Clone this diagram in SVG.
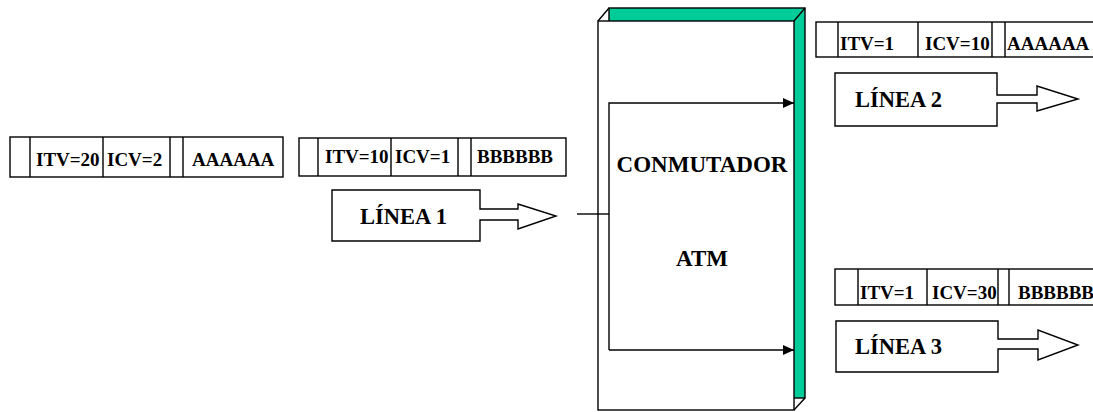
<svg xmlns="http://www.w3.org/2000/svg" width="1093" height="412" viewBox="0 0 1093 412">
<style>
.ln{fill:none;stroke:#000;stroke-width:1.4}
.bx{fill:#fff;stroke:#000;stroke-width:1.4}
.c{font-size:19px}
.l{font-size:22.5px}
.s{font-size:23px;text-anchor:middle}
</style>
<defs>
<marker id="ah" markerWidth="12" markerHeight="10" refX="11" refY="5" orient="auto" markerUnits="userSpaceOnUse">
<path d="M0,0 L11,5 L0,10 Z" fill="#000"/>
</marker>
</defs>
<rect width="1093" height="412" fill="#fff"/>
<g font-family="Liberation Serif" font-weight="bold" fill="#000">

<g id="switch">
<rect x="609" y="8" width="196" height="390" fill="#00CC99" stroke="#000" stroke-width="1.4"/>
<rect x="598" y="21" width="196" height="389" class="bx"/>
<path class="ln" d="M598,21 L609,8 M794,21 L805,8 M794,410 L805,398"/>
<text class="s" x="702" y="172">CONMUTADOR</text>
<text class="s" x="702" y="266">ATM</text>
</g>

<g id="cell1">
<rect x="10" y="137" width="273" height="40" class="bx"/>
<path class="ln" d="M30,137V177 M103,137V177 M170,137V177 M183,137V177"/>
<text class="c" x="36" y="166">ITV=20</text>
<text class="c" x="107" y="166">ICV=2</text>
<text class="c" x="192" y="166">AAAAAA</text>
</g>

<g id="cell2">
<rect x="299" y="138" width="267" height="38" class="bx"/>
<path class="ln" d="M318,138V176 M391,138V176 M458,138V176 M471,138V176"/>
<text class="c" x="325" y="163">ITV=10</text>
<text class="c" x="395" y="163">ICV=1</text>
<text class="c" x="477" y="163">BBBBBB</text>
</g>

<g id="linea1">
<path class="bx" d="M332,190 H480 V209 H518 V204 L556,216 L518,229 V220 H480 V241 H332 Z"/>
<text class="l" x="360" y="224">LÍNEA 1</text>
</g>

<g id="cell3">
<rect x="816" y="22" width="286" height="35" class="bx"/>
<path class="ln" d="M838,22V57 M918,22V57 M992,22V57 M1005,22V57"/>
<text class="c" x="840" y="50">ITV=1</text>
<text class="c" x="925" y="50">ICV=10</text>
<text class="c" x="1007" y="50">AAAAAA</text>
</g>

<g id="linea2">
<path class="bx" d="M835,73 H997 V95 H1037 V86 L1078,99 L1037,111 V103 H997 V126 H835 Z"/>
<text class="l" x="855" y="107">LÍNEA 2</text>
</g>

<g id="cell4">
<rect x="835" y="269" width="268" height="36" class="bx"/>
<path class="ln" d="M858,269V305 M927,269V305 M998,269V305 M1009,269V305"/>
<text class="c" x="860" y="299">ITV=1</text>
<text class="c" x="932" y="299">ICV=30</text>
<text class="c" x="1018" y="299">BBBBBB</text>
</g>

<g id="linea3">
<path class="bx" d="M836,321 H998 V339 H1038 V330 L1078,345 L1038,360 V349 H998 V372 H836 Z"/>
<text class="l" x="855" y="354">LÍNEA 3</text>
</g>

</g>
<g id="connectors">
<path class="ln" d="M577,214 H609"/>
<path class="ln" d="M609,350 V103 H794" marker-end="url(#ah)"/>
<path class="ln" d="M609,350 H794" marker-end="url(#ah)"/>
</g>
</svg>
